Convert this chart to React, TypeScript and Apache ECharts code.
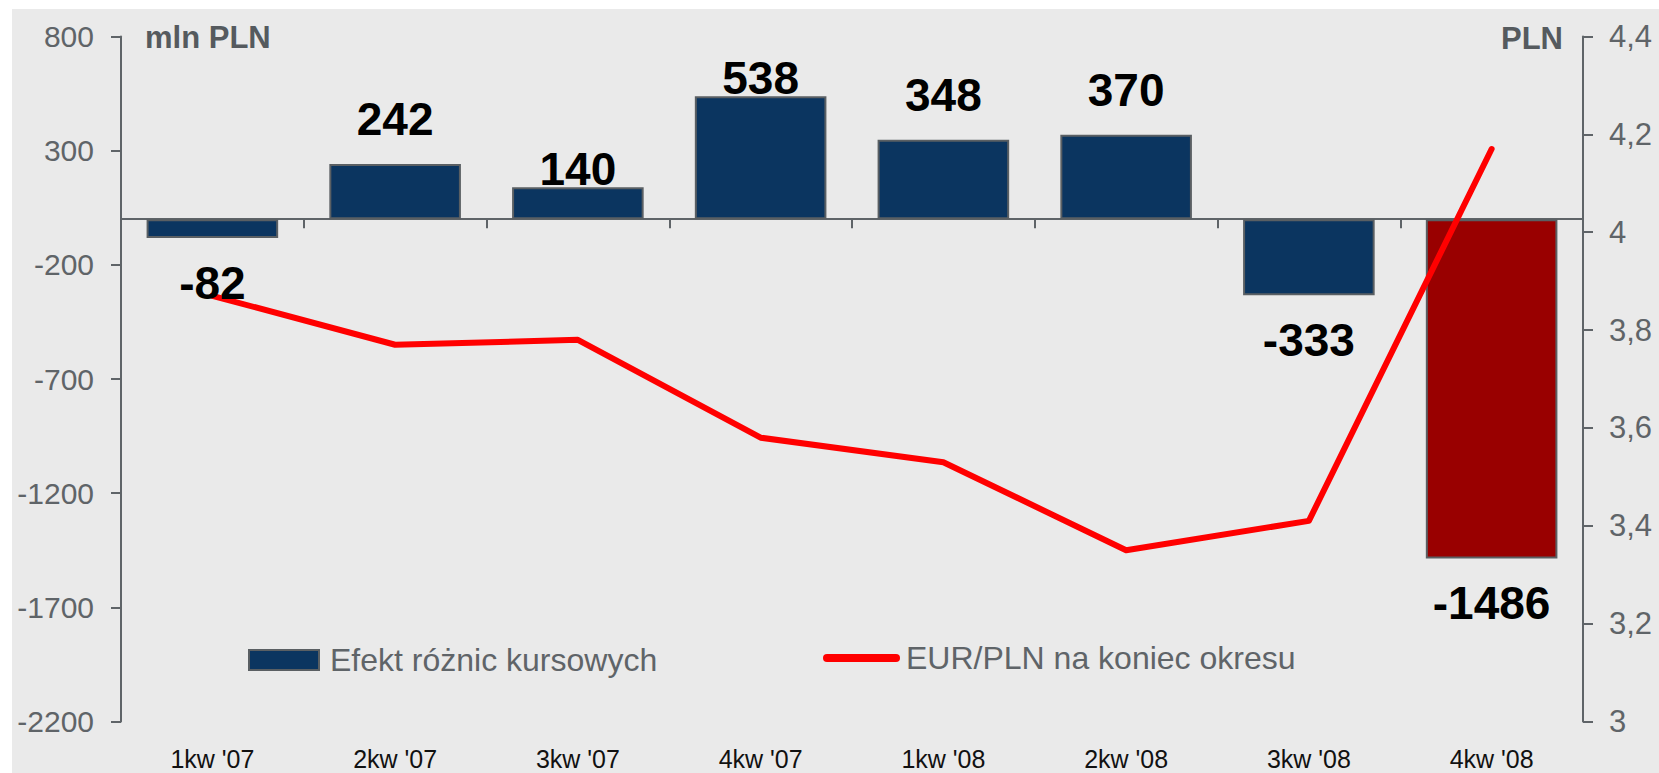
import React, { useEffect, useRef } from "react";
import * as echarts from "echarts";

const categories = ["1kw '07", "2kw '07", "3kw '07", "4kw '07", "1kw '08", "2kw '08", "3kw '08", "4kw '08"];
const exchangeEffect = [-82, 242, 140, 538, 348, 370, -333, -1486];
const eurPln = [3.87, 3.77, 3.78, 3.58, 3.53, 3.35, 3.41, 4.17];
const leftAxisRange = [-2200, 800];
const leftAxisStep = 500;
const rightAxisRange = [3, 4.4];
const rightAxisStep = 0.2;
const barName = "Efekt różnic kursowych";
const lineName = "EUR/PLN na koniec okresu";
const leftTitle = "mln PLN";
const rightTitle = "PLN";

const FONT = "'Liberation Sans', Arial, Helvetica, sans-serif";
const NAVY = "#0b3560";
const DARKRED = "#990000";
const AXIS = "#5f6468";
const BORDER = "#5a5f63";
const HIGHLIGHT_INDEX = 7;
const TIGHT_LABELS = new Set([2, 3]);

export default function App() {
  const ref = useRef<HTMLDivElement>(null);
  useEffect(() => {
    if (!ref.current) return;
    const chart = echarts.init(ref.current, undefined, { renderer: "svg" });
    const labelData = exchangeEffect.map((v, i) => ({
      value: v,
      label: {
        position: v >= 0 ? "top" : "bottom",
        distance: TIGHT_LABELS.has(i) ? -5 : 22,
      },
    }));
    chart.setOption({
      animation: false,
      textStyle: { fontFamily: FONT },
      graphic: [
        {
          type: "rect",
          z: -10,
          silent: true,
          shape: { x: 12, y: 9, width: 1659 - 12, height: 773 - 9 },
          style: { fill: "#eaeaea" },
        },
        {
          type: "text",
          x: 145,
          y: 37,
          style: {
            text: leftTitle,
            font: `bold 31px ${FONT}`,
            fill: "#555a5e",
            textAlign: "left",
            textVerticalAlign: "middle",
          },
        },
        {
          type: "text",
          x: 1563,
          y: 38,
          style: {
            text: rightTitle,
            font: `bold 31px ${FONT}`,
            fill: "#555a5e",
            textAlign: "right",
            textVerticalAlign: "middle",
          },
        },
      ],
      grid: { left: 121, right: 76, top: 36.5, bottom: 51.5, containLabel: false },
      legend: [
        {
          data: [barName],
          left: 248,
          top: 644,
          padding: 0,
          itemWidth: 70,
          itemHeight: 20,
          itemGap: 0,
          icon: "rect",
          itemStyle: { color: NAVY, borderColor: BORDER, borderWidth: 2 },
          textStyle: { fontSize: 32, lineHeight: 32, color: AXIS, fontFamily: FONT, padding: [0, 0, 0, 6] },
          selectedMode: false,
        },
        {
          data: [lineName],
          left: 823,
          top: 642,
          padding: 0,
          itemWidth: 77,
          itemHeight: 8,
          itemGap: 0,
          icon: "path://M4,0 H73 A4,4 0 0 1 73,8 H4 A4,4 0 0 1 4,0 Z",
          itemStyle: { color: "#ff0000", borderWidth: 0 },
          textStyle: { fontSize: 32, lineHeight: 32, color: AXIS, fontFamily: FONT, padding: [0, 0, 0, 1] },
          selectedMode: false,
        },
      ],
      xAxis: [
        {
          type: "category",
          data: categories,
          axisLine: { show: true, onZero: true, onZeroAxisIndex: 0, lineStyle: { color: AXIS, width: 2 } },
          axisTick: { show: true, length: 9, lineStyle: { color: AXIS, width: 2 } },
          axisLabel: { show: false },
          splitLine: { show: false },
        },
        {
          type: "category",
          data: categories,
          position: "bottom",
          axisLine: { show: false, onZero: false },
          axisTick: { show: false },
          axisLabel: { show: true, fontSize: 25, lineHeight: 25, color: "#111111", margin: 25, fontFamily: FONT },
          splitLine: { show: false },
        },
      ],
      yAxis: [
        {
          type: "value",
          min: leftAxisRange[0],
          max: leftAxisRange[1],
          interval: leftAxisStep,
          position: "left",
          axisLine: { show: true, lineStyle: { color: AXIS, width: 2 } },
          axisTick: { show: true, length: 10, lineStyle: { color: AXIS, width: 2 } },
          axisLabel: {
            fontSize: 30,
            color: AXIS,
            margin: 27,
            fontFamily: FONT,
            formatter: (v: number) => String(Math.round(v)),
          },
          splitLine: { show: false },
        },
        {
          type: "value",
          min: rightAxisRange[0],
          max: rightAxisRange[1],
          interval: rightAxisStep,
          position: "right",
          axisLine: { show: true, lineStyle: { color: AXIS, width: 2 } },
          axisTick: { show: true, length: 10, lineStyle: { color: AXIS, width: 2 } },
          axisLabel: {
            fontSize: 31,
            color: AXIS,
            margin: 26,
            fontFamily: FONT,
            formatter: (v: number) => String(Math.round(v * 10) / 10).replace(".", ","),
          },
          splitLine: { show: false },
        },
      ],
      series: [
        {
          name: barName,
          type: "bar",
          xAxisIndex: 0,
          yAxisIndex: 0,
          data: exchangeEffect,
          barCategoryGap: "28%",
          barGap: "-100%",
          z: 2,
          itemStyle: {
            color: (p: any) => (p.dataIndex === HIGHLIGHT_INDEX ? DARKRED : NAVY),
            borderColor: BORDER,
            borderWidth: 2,
          },
          emphasis: { disabled: true },
        },
        {
          name: lineName,
          type: "line",
          xAxisIndex: 0,
          yAxisIndex: 1,
          data: eurPln,
          symbol: "none",
          showSymbol: false,
          z: 3,
          lineStyle: { color: "#ff0000", width: 6, cap: "round", join: "round" },
          itemStyle: { color: "#ff0000" },
          emphasis: { disabled: true },
        },
        {
          name: "labels",
          type: "bar",
          xAxisIndex: 0,
          yAxisIndex: 0,
          data: labelData,
          barCategoryGap: "28%",
          barGap: "-100%",
          z: 5,
          silent: true,
          itemStyle: { color: "rgba(0,0,0,0)", borderWidth: 0 },
          label: {
            show: true,
            formatter: "{c}",
            fontSize: 46,
            lineHeight: 46,
            fontWeight: "bold",
            color: "#000000",
            fontFamily: FONT,
          },
          emphasis: { disabled: true },
        },
      ],
    });
    return () => chart.dispose();
  }, []);
  return <div ref={ref} style={{ position: "absolute", left: 0, top: 0, width: 1659, height: 773, background: "#ffffff" }} />;
}
